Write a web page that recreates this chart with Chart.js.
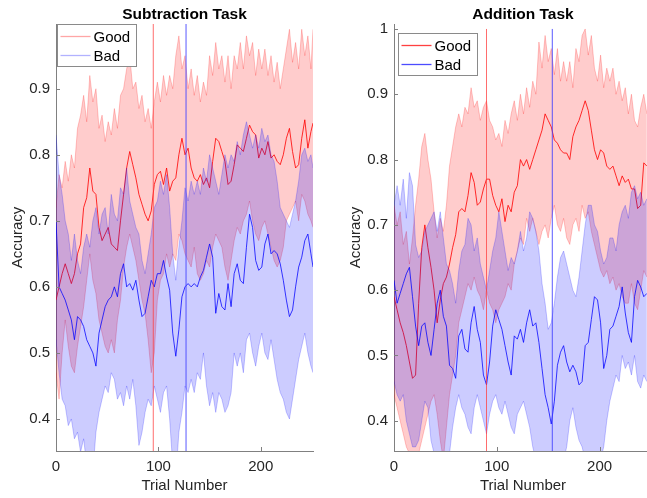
<!DOCTYPE html>
<html><head><meta charset="utf-8">
<script src="https://cdn.jsdelivr.net/npm/chart.js@4/dist/chart.umd.min.js"></script>
<style>
html,body{margin:0;padding:0;background:#fff;overflow:hidden;width:647px;height:498px;}
#wrap{position:relative;width:647px;height:498px;overflow:hidden;background:#fff;}
canvas{position:absolute;top:0;}
#cL{left:0;} #cR{left:330px;}
</style></head><body>
<div id="wrap"><canvas id="cL" width="330" height="498"></canvas><canvas id="cR" width="322" height="498"></canvas></div>
<script>
// ---------- DATA ----------
const seriesNames = ["Good", "Bad"];
const titles = ["Subtraction Task", "Addition Task"];
const xLabel = "Trial Number";
const yLabel = "Accuracy";
const xTicks = [0, 100, 200];
const yTicksLeft = [0.4, 0.5, 0.6, 0.7, 0.8, 0.9];
const yTicksRight = [0.4, 0.5, 0.6, 0.7, 0.8, 0.9, 1];
const spikeRange = [0, 1];
const spikeTrialsLeft = [95, 127];   // Good, Bad
const spikeTrialsRight = [90, 154];  // Good, Bad

const trialsLeft = [0,3,6,9,12,15,18,21,24,27,30,33,36,39,42,45,48,51,54,57,60,63,66,69,72,75,78,81,84,87,90,93,96,99,102,105,108,111,114,117,120,123,126,129,132,135,138,141,144,147,150,153,156,159,162,165,168,171,174,177,180,183,186,189,192,195,198,201,204,207,210,213,216,219,222,225,228,231,234,237,240,243,246,249,251];

const subGoodMean = [0.58,0.60,0.62,0.635,0.62,0.605,0.62,0.65,0.665,0.72,
 0.735,0.78,0.745,0.74,0.69,0.67,0.68,0.69,0.665,0.66,
 0.655,0.70,0.74,0.78,0.805,0.785,0.765,0.74,0.725,0.71,
 0.70,0.715,0.755,0.77,0.775,0.755,0.78,0.745,0.76,0.765,
 0.80,0.825,0.80,0.81,0.78,0.765,0.76,0.77,0.755,0.765,
 0.75,0.79,0.825,0.82,0.805,0.79,0.755,0.76,0.785,0.815,
 0.81,0.805,0.825,0.845,0.835,0.83,0.795,0.81,0.80,0.82,
 0.795,0.80,0.79,0.785,0.80,0.825,0.84,0.805,0.78,0.785,
 0.825,0.853,0.81,0.835,0.848];
const subGoodUpper = [0.72,0.77,0.75,0.79,0.76,0.80,0.78,0.84,0.86,0.89,
 0.85,0.92,0.88,0.90,0.84,0.86,0.82,0.85,0.83,0.87,
 0.84,0.89,0.90,0.93,0.95,0.90,0.91,0.87,0.89,0.85,
 0.87,0.84,0.88,0.91,0.88,0.92,0.89,0.92,0.90,0.95,
 0.98,0.93,0.95,0.90,0.93,0.89,0.92,0.88,0.91,0.89,
 0.95,0.92,0.97,0.93,0.95,0.91,0.95,0.90,0.95,0.93,
 0.97,0.93,0.98,0.95,0.97,0.92,0.96,0.93,0.96,0.92,
 0.95,0.91,0.94,0.90,0.93,0.96,0.99,0.94,0.97,0.93,
 0.99,0.95,0.98,0.93,0.99];
const subGoodLower = [0.47,0.43,0.50,0.55,0.51,0.48,0.47,0.51,0.54,0.57,
 0.61,0.65,0.61,0.59,0.55,0.53,0.51,0.50,0.52,0.50,
 0.55,0.58,0.63,0.66,0.68,0.66,0.64,0.61,0.58,0.56,
 0.52,0.47,0.50,0.58,0.61,0.62,0.65,0.63,0.65,0.64,
 0.68,0.67,0.65,0.64,0.63,0.66,0.62,0.61,0.62,0.64,
 0.63,0.66,0.68,0.67,0.66,0.63,0.61,0.64,0.67,0.69,
 0.68,0.70,0.71,0.73,0.70,0.68,0.67,0.69,0.70,0.68,
 0.66,0.64,0.63,0.64,0.66,0.70,0.71,0.72,0.73,0.70,
 0.74,0.73,0.71,0.70,0.69];
const subBadMean = [0.70,0.60,0.59,0.58,0.565,0.55,0.52,0.555,0.55,0.54,
 0.52,0.51,0.50,0.48,0.53,0.55,0.57,0.58,0.585,0.60,
 0.585,0.62,0.635,0.60,0.605,0.595,0.61,0.58,0.555,0.56,
 0.585,0.61,0.60,0.62,0.62,0.64,0.615,0.595,0.53,0.495,
 0.535,0.585,0.60,0.605,0.60,0.605,0.60,0.615,0.625,0.645,
 0.665,0.645,0.56,0.59,0.57,0.565,0.605,0.57,0.62,0.635,
 0.61,0.605,0.66,0.71,0.69,0.64,0.625,0.63,0.665,0.68,
 0.65,0.655,0.65,0.635,0.61,0.58,0.555,0.565,0.60,0.63,
 0.645,0.67,0.68,0.65,0.63];
const subBadUpper = [0.83,0.77,0.74,0.70,0.68,0.64,0.68,0.64,0.62,0.66,
 0.68,0.66,0.70,0.72,0.68,0.71,0.72,0.68,0.74,0.71,
 0.70,0.75,0.74,0.78,0.73,0.71,0.69,0.68,0.64,0.62,
 0.65,0.68,0.72,0.73,0.76,0.74,0.77,0.72,0.65,0.61,
 0.66,0.70,0.75,0.73,0.76,0.74,0.76,0.74,0.78,0.76,
 0.80,0.78,0.76,0.74,0.77,0.80,0.78,0.80,0.79,0.82,
 0.80,0.83,0.85,0.83,0.81,0.83,0.81,0.84,0.82,0.83,
 0.80,0.79,0.76,0.72,0.71,0.70,0.69,0.71,0.73,0.76,
 0.80,0.81,0.79,0.80,0.78];
const subBadLower = [0.52,0.47,0.43,0.42,0.39,0.40,0.37,0.38,0.35,0.37,
 0.33,0.35,0.32,0.38,0.41,0.43,0.45,0.44,0.47,0.46,
 0.43,0.44,0.42,0.45,0.43,0.46,0.42,0.36,0.38,0.41,
 0.43,0.42,0.45,0.43,0.41,0.44,0.45,0.40,0.33,0.31,
 0.38,0.41,0.45,0.44,0.46,0.44,0.47,0.46,0.50,0.45,
 0.42,0.44,0.41,0.44,0.43,0.41,0.42,0.44,0.50,0.48,
 0.50,0.47,0.52,0.53,0.50,0.48,0.51,0.53,0.50,0.49,
 0.52,0.49,0.46,0.44,0.43,0.41,0.40,0.43,0.46,0.49,
 0.51,0.53,0.50,0.48,0.47];

const trialsRight = [0,3,6,9,12,15,18,21,24,27,30,33,36,39,42,45,48,51,54,57,60,63,66,69,72,75,78,81,84,87,90,93,96,99,102,105,108,111,114,117,120,123,126,129,132,135,138,141,144,147,150,153,156,159,162,165,168,171,174,177,180,183,186,189,192,195,198,201,204,207,210,213,216,219,222,225,228,231,234,237,240,243,246];

const addGoodMean = [0.59,0.57,0.55,0.535,0.515,0.49,0.465,0.47,0.58,0.665,
 0.70,0.665,0.635,0.60,0.55,0.585,0.61,0.62,0.64,0.665,
 0.685,0.72,0.725,0.72,0.745,0.78,0.765,0.73,0.735,0.755,
 0.77,0.77,0.745,0.73,0.72,0.74,0.705,0.73,0.72,0.75,
 0.76,0.80,0.79,0.80,0.785,0.80,0.815,0.83,0.845,0.87,
 0.86,0.85,0.83,0.825,0.815,0.81,0.81,0.80,0.835,0.85,
 0.86,0.875,0.89,0.875,0.845,0.815,0.80,0.815,0.81,0.79,
 0.785,0.79,0.775,0.76,0.775,0.765,0.77,0.755,0.755,0.725,
 0.73,0.795,0.79];
const addGoodUpper = [0.73,0.70,0.72,0.67,0.69,0.64,0.68,0.73,0.77,0.82,
 0.84,0.80,0.77,0.72,0.68,0.71,0.69,0.73,0.79,0.82,
 0.85,0.87,0.85,0.88,0.87,0.91,0.88,0.89,0.86,0.88,
 0.89,0.86,0.85,0.83,0.84,0.82,0.86,0.84,0.87,0.89,
 0.86,0.90,0.87,0.91,0.88,0.92,0.90,0.98,0.94,0.99,
 0.95,0.97,0.93,0.97,0.92,0.95,0.92,0.95,0.91,0.97,
 0.95,0.99,1.0,0.96,0.99,0.94,0.92,0.96,0.91,0.94,
 0.92,0.94,0.90,0.92,0.89,0.91,0.87,0.90,0.86,0.85,
 0.88,0.90,0.87];
const addGoodLower = [0.44,0.42,0.40,0.38,0.36,0.35,0.33,0.33,0.35,0.37,
 0.39,0.41,0.43,0.44,0.41,0.37,0.34,0.39,0.44,0.47,
 0.50,0.55,0.57,0.59,0.61,0.60,0.62,0.60,0.59,0.57,
 0.60,0.58,0.57,0.55,0.57,0.58,0.59,0.61,0.60,0.64,
 0.66,0.68,0.67,0.71,0.69,0.71,0.69,0.67,0.69,0.70,
 0.68,0.71,0.73,0.70,0.69,0.71,0.68,0.67,0.70,0.71,
 0.69,0.73,0.71,0.72,0.69,0.67,0.65,0.63,0.62,0.63,
 0.61,0.62,0.60,0.61,0.59,0.58,0.58,0.61,0.58,0.57,
 0.60,0.63,0.62];
const addBadMean = [0.615,0.58,0.595,0.61,0.625,0.635,0.59,0.545,0.515,0.545,
 0.55,0.52,0.50,0.54,0.58,0.60,0.56,0.545,0.485,0.48,
 0.465,0.53,0.54,0.51,0.505,0.55,0.575,0.54,0.52,0.47,
 0.455,0.49,0.545,0.57,0.555,0.54,0.515,0.49,0.47,0.53,
 0.525,0.54,0.52,0.55,0.57,0.545,0.55,0.52,0.48,0.44,
 0.42,0.395,0.43,0.485,0.505,0.515,0.49,0.475,0.485,0.475,
 0.455,0.46,0.515,0.52,0.555,0.59,0.585,0.55,0.48,0.50,
 0.54,0.545,0.56,0.575,0.605,0.565,0.535,0.52,0.59,0.615,
 0.605,0.59,0.595];
const addBadUpper = [0.73,0.76,0.73,0.77,0.71,0.78,0.76,0.67,0.65,0.66,
 0.69,0.70,0.71,0.72,0.69,0.72,0.68,0.64,0.63,0.61,
 0.58,0.63,0.66,0.67,0.71,0.70,0.66,0.68,0.64,0.62,
 0.60,0.63,0.66,0.68,0.72,0.69,0.66,0.63,0.65,0.64,
 0.66,0.69,0.66,0.68,0.72,0.71,0.69,0.66,0.61,0.58,
 0.54,0.55,0.58,0.62,0.65,0.66,0.64,0.62,0.60,0.59,
 0.62,0.66,0.70,0.73,0.73,0.70,0.69,0.66,0.64,0.65,
 0.68,0.68,0.66,0.70,0.72,0.73,0.71,0.75,0.76,0.74,
 0.75,0.73,0.74];
const addBadLower = [0.46,0.44,0.43,0.44,0.40,0.38,0.36,0.36,0.37,0.40,
 0.43,0.42,0.37,0.35,0.33,0.32,0.33,0.32,0.35,0.39,
 0.42,0.44,0.42,0.41,0.39,0.38,0.42,0.44,0.42,0.40,
 0.38,0.41,0.43,0.44,0.42,0.41,0.43,0.41,0.39,0.38,
 0.41,0.42,0.43,0.41,0.39,0.36,0.34,0.32,0.31,0.30,
 0.29,0.28,0.31,0.32,0.33,0.34,0.36,0.40,0.42,0.39,
 0.37,0.36,0.34,0.33,0.32,0.33,0.32,0.34,0.36,0.40,
 0.43,0.45,0.47,0.46,0.50,0.48,0.49,0.47,0.50,0.46,
 0.45,0.47,0.46];

// ---------- STYLE ----------
const FONT = '"Liberation Sans", Arial, Helvetica, sans-serif';
const AXIS = '#808080';
const TXT = '#262626';
Chart.defaults.font.family = FONT;

const pts = (xs, ys) => xs.map((x, i) => ({x: x, y: ys[i]}));
const spike = (x) => [{x: x, y: spikeRange[0]}, {x: x, y: spikeRange[1]}];

const deco = {
  id: 'deco',
  afterDraw(chart, args, o) {
    const ctx = chart.ctx, a = chart.chartArea;
    const cx = (a.left + a.right) / 2;
    ctx.save();
    // inward ticks
    ctx.strokeStyle = AXIS; ctx.lineWidth = 1;
    const ys = chart.scales.y, xs = chart.scales.x;
    ys.ticks.forEach(t => {
      const y = Math.round(ys.getPixelForValue(t.value)) + 0.5;
      ctx.beginPath(); ctx.moveTo(a.left, y); ctx.lineTo(a.left + 4, y); ctx.stroke();
    });
    xs.ticks.forEach(t => {
      const x = Math.round(xs.getPixelForValue(t.value)) + 0.5;
      ctx.beginPath(); ctx.moveTo(x, a.bottom); ctx.lineTo(x, a.bottom - 4); ctx.stroke();
    });
    // title
    ctx.fillStyle = '#000';
    ctx.font = 'bold 15.5px ' + FONT;
    ctx.textAlign = 'center'; ctx.textBaseline = 'alphabetic';
    ctx.fillText(o.title, cx, 19);
    // x label
    ctx.fillStyle = TXT;
    ctx.font = '15px ' + FONT;
    ctx.fillText(xLabel, cx, 490);
    // y label
    ctx.save();
    ctx.translate(a.left - 34, (a.top + a.bottom) / 2);
    ctx.rotate(-Math.PI / 2);
    ctx.textAlign = 'center'; ctx.textBaseline = 'alphabetic';
    ctx.fillText(yLabel, 0, 0);
    ctx.restore();
    // legend
    const bx = Math.round(a.left + o.legDx) + 0.5, by = Math.round(a.top + o.legDy) + 0.5;
    ctx.fillStyle = '#fff';
    ctx.fillRect(bx, by, 79, 42);
    ctx.strokeStyle = '#8a8a8a'; ctx.lineWidth = 1;
    ctx.strokeRect(bx, by, 79, 42);
    const rows = [12, 31];
    seriesNames.forEach((nm, i) => {
      ctx.strokeStyle = o.legColors[i]; ctx.lineWidth = 1.3;
      ctx.beginPath(); ctx.moveTo(bx + 3, by + rows[i]); ctx.lineTo(bx + 33, by + rows[i]); ctx.stroke();
      ctx.fillStyle = '#000'; ctx.font = '15px ' + FONT;
      ctx.textAlign = 'left'; ctx.textBaseline = 'alphabetic';
      ctx.fillText(nm, bx + 36, by + rows[i] + 5.5);
    });
    ctx.restore();
  }
};

function makeChart(id, c) {
  const lineBase = {pointRadius: 0, tension: 0, borderJoinStyle: 'round'};
  const datasets = [
    Object.assign({}, lineBase, {data: pts(c.trials, c.badMean), borderColor: 'rgba(0,0,255,0.85)', borderWidth: 0.9, fill: false, order: 1}),
    Object.assign({}, lineBase, {data: pts(c.trials, c.badUpper), borderColor: 'rgba(0,0,255,0.22)', borderWidth: 1, fill: '+1', backgroundColor: 'rgba(0,0,255,0.2)', order: 2}),
    Object.assign({}, lineBase, {data: pts(c.trials, c.badLower), borderColor: 'rgba(0,0,255,0.22)', borderWidth: 1, fill: false, order: 2}),
    Object.assign({}, lineBase, {data: pts(c.trials, c.goodMean), borderColor: 'rgba(255,0,0,0.9)', borderWidth: 0.9, fill: false, order: 3}),
    Object.assign({}, lineBase, {data: pts(c.trials, c.goodUpper), borderColor: 'rgba(255,0,0,0.22)', borderWidth: 1, fill: '+1', backgroundColor: 'rgba(255,0,0,0.2)', order: 4}),
    Object.assign({}, lineBase, {data: pts(c.trials, c.goodLower), borderColor: 'rgba(255,0,0,0.22)', borderWidth: 1, fill: false, order: 4}),
    Object.assign({}, lineBase, {data: spike(c.spikes[0]), borderColor: 'rgba(255,60,60,0.75)', borderWidth: 1, fill: false, order: 0}),
    Object.assign({}, lineBase, {data: spike(c.spikes[1]), borderColor: 'rgba(60,60,255,0.85)', borderWidth: 1, fill: false, order: 0})
  ];
  const tickFont = {family: FONT, size: 15};
  return new Chart(document.getElementById(id), {
    type: 'line',
    data: {datasets: datasets},
    options: {
      responsive: false, animation: false, devicePixelRatio: 1,
      layout: {padding: {top: 24, right: c.padRight, left: 0, bottom: 0}},
      plugins: {
        legend: {display: false}, tooltip: {enabled: false}, title: {display: false},
        deco: {title: c.title, legDx: c.legDx, legDy: c.legDy, legColors: c.legColors}
      },
      scales: {
        x: {
          type: 'linear', min: 0, max: 251,
          afterBuildTicks: s => { s.ticks = xTicks.map(v => ({value: v})); },
          afterFit: s => { s.height = 47; },
          grid: {display: false, drawTicks: false},
          border: {display: true, color: AXIS, width: 1},
          ticks: {padding: 7, color: TXT, font: tickFont, maxRotation: 0, autoSkip: false, callback: v => String(v)}
        },
        y: {
          type: 'linear', min: c.yMin, max: c.yMax,
          afterBuildTicks: s => { s.ticks = c.yTicks.map(v => ({value: v})); },
          afterFit: s => { s.width = c.yWidth; },
          grid: {display: false, drawTicks: false},
          border: {display: true, color: AXIS, width: 1},
          ticks: {padding: 6, color: TXT, font: tickFont, autoSkip: false, callback: v => (v === 1 ? '1' : Number(v).toFixed(1))}
        }
      }
    },
    plugins: [deco]
  });
}

makeChart('cL', {
  title: titles[0], trials: trialsLeft,
  goodMean: subGoodMean, goodUpper: subGoodUpper, goodLower: subGoodLower,
  badMean: subBadMean, badUpper: subBadUpper, badLower: subBadLower,
  spikes: spikeTrialsLeft, yTicks: yTicksLeft, yMin: 0.3515, yMax: 0.998,
  yWidth: 56, padRight: 17, legDx: 1, legDy: 0,
  legColors: ['rgba(255,0,0,0.35)', 'rgba(0,0,255,0.3)']
});
makeChart('cR', {
  title: titles[1], trials: trialsRight,
  goodMean: addGoodMean, goodUpper: addGoodUpper, goodLower: addGoodLower,
  badMean: addBadMean, badUpper: addBadUpper, badLower: addBadLower,
  spikes: spikeTrialsRight, yTicks: yTicksRight, yMin: 0.3537, yMax: 1.0076,
  yWidth: 64, padRight: 0, legDx: 4, legDy: 9,
  legColors: ['rgba(255,0,0,0.75)', 'rgba(0,0,255,0.7)']
});
</script>
</body></html>
